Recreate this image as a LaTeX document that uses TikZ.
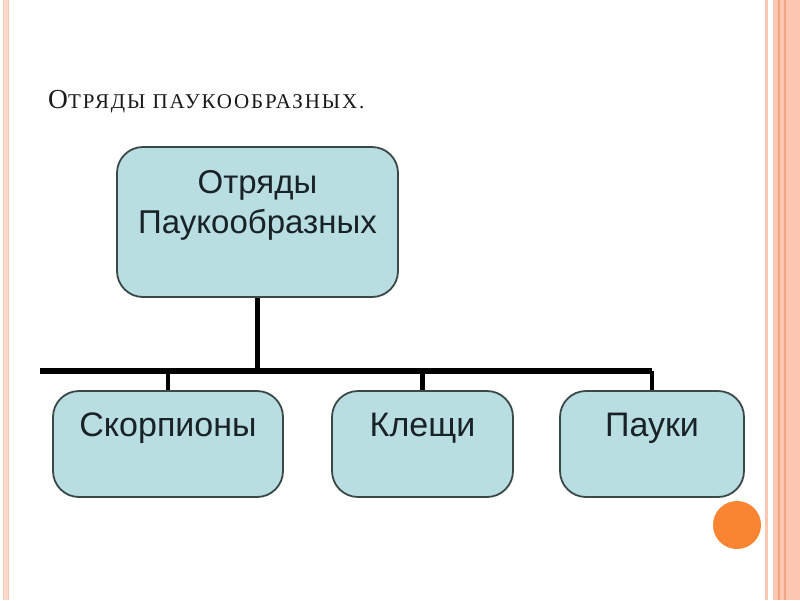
\documentclass[tikz,border=0pt]{standalone}
\usepackage{fontspec}
\setmainfont{Liberation Serif}
\newfontfamily\boxfont{Liberation Sans}
\newfontfamily\titlefont[LetterSpace=9]{Liberation Serif}
\definecolor{boxfill}{RGB}{185,222,226}
\definecolor{boxline}{RGB}{58,72,72}
\definecolor{boxtext}{RGB}{25,34,38}
\definecolor{stripelight}{RGB}{252,217,203}
\definecolor{stripemid}{RGB}{253,198,177}
\definecolor{stripedark}{RGB}{243,165,131}
\definecolor{dotorange}{RGB}{249,132,50}
\tikzset{
  orgbox/.style={draw=boxline, line width=1.8pt, fill=boxfill, rounded corners=26pt,
    inner xsep=0pt, inner ysep=0pt, text=boxtext, font=\boxfont},
  topbox/.style={orgbox, minimum width=281pt, minimum height=150pt, text height=86pt, text depth=64pt},
  leafbox/.style={orgbox, minimum height=106pt, text height=45pt, text depth=61pt},
  trunk/.style={line width=5.5pt, black},
  bus/.style={line width=6pt, black},
  tick/.style={line width=4.5pt, black},
}
\begin{document}
\begin{tikzpicture}[x=1pt, y=-1pt]
\useasboundingbox (0,0) rectangle (800,600);
\fill[white] (0,0) rectangle (800,600);
% side stripes
\fill[stripelight] (3,0) rectangle (9,600);
\fill[stripedark!60] (3,0) rectangle (4.2,600);
\fill[stripedark!60] (7.8,0) rectangle (9,600);
\fill[stripemid] (765,0) rectangle (768,600);
\fill[stripemid] (773,0) rectangle (800,600);
\fill[stripedark] (777.5,0) rectangle (779.5,600);
\fill[stripedark] (783.5,0) rectangle (786,600);
% orange dot
\fill[dotorange] (737,525) circle (24);
% title
\node[anchor=base west, inner sep=0pt, text=black!90] (title) at (48,108)
  {\titlefont\fontsize{27.5}{32}\selectfont О\fontsize{21}{26}\selectfont ТРЯДЫ ПАУКООБРАЗНЫХ.};
% boxes
\node[topbox] (top) at (257.5,222)
  {\fontsize{33}{40}\selectfont\begin{tabular}[b]{@{}c@{}}Отряды\\Паукообразных\end{tabular}};
\node[leafbox, minimum width=230pt] (sk) at (168,444) {\fontsize{34}{40}\selectfont Скорпионы};
\node[leafbox, minimum width=181pt] (kl) at (422.5,444) {\fontsize{34}{40}\selectfont Клещи};
\node[leafbox, minimum width=184pt] (pa) at (652,444) {\fontsize{34}{40}\selectfont Пауки};
% connectors
\coordinate (busL) at (40,371);
\coordinate (busR) at (652,371);
\draw[trunk] (top.south) -- (top.south |- busL);
\draw[bus] (busL) -- (busR);
\draw[tick] (sk.north |- busL) -- (sk.north);
\draw[tick] (kl.north |- busL) -- (kl.north);
\draw[tick] (busR) -- (pa.north);
\end{tikzpicture}
\end{document}
